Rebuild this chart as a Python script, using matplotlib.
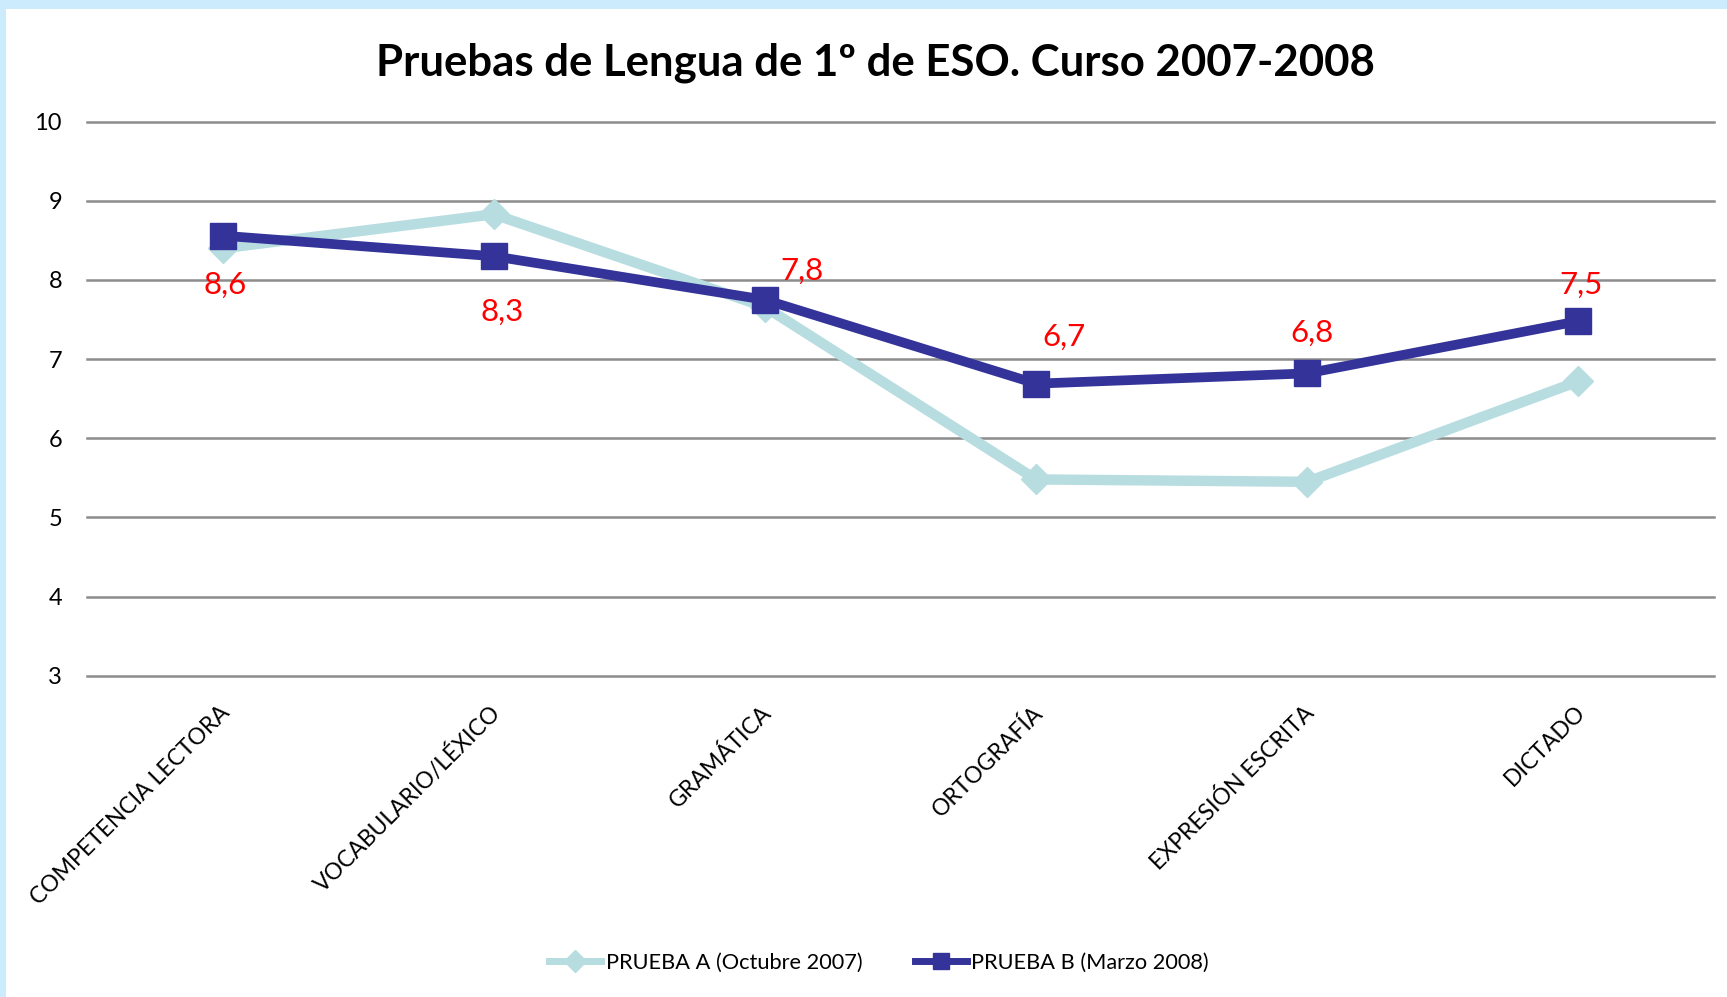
import matplotlib
matplotlib.use("Agg")
import matplotlib.pyplot as plt
from matplotlib.lines import Line2D
from matplotlib.patches import Rectangle
from matplotlib.transforms import ScaledTranslation

categories = ["COMPETENCIA LECTORA", "VOCABULARIO/LÉXICO", "GRAMÁTICA",
              "ORTOGRAFÍA", "EXPRESIÓN ESCRITA", "DICTADO"]
prueba_a = [8.40, 8.83, 7.66, 5.48, 5.45, 6.72]
prueba_b = [8.56, 8.30, 7.75, 6.69, 6.82, 7.48]
labels_b = ["8,6", "8,3", "7,8", "6,7", "6,8", "7,5"]
series_names = ["PRUEBA A (Octubre 2007)", "PRUEBA B (Marzo 2008)"]
yticks = [3, 4, 5, 6, 7, 8, 9, 10]
title = "Pruebas de Lengua de 1º de ESO. Curso 2007-2008"

# label offsets in pixels (style)
label_offsets = [(3, -49), (8, -56), (37, 29), (28, 47), (5, 41), (3, 36)]

plt.rcParams['font.family'] = ['Lato', 'DejaVu Sans']

color_a = "#B7DDE0"
color_b = "#333399"

fig = plt.figure(figsize=(17.27, 9.97), dpi=100)
fig.patch.set_facecolor("white")
# light blue frame on top and left
fig.patches.append(Rectangle((0, 1 - 9/997), 1, 9/997, transform=fig.transFigure,
                             facecolor="#CCEBFD", edgecolor="none", zorder=0))
fig.patches.append(Rectangle((0, 0), 6/1727, 1, transform=fig.transFigure,
                             facecolor="#CCEBFD", edgecolor="none", zorder=0))

ax = fig.add_axes([87/1727, 1 - 675.7/997, (1714 - 87)/1727, (675.7 - 121.7)/997])
x = list(range(len(categories)))

ax.plot(x, prueba_a, color=color_a, lw=7.5, marker="D", markersize=15,
        markerfacecolor=color_a, markeredgecolor=color_a, zorder=3,
        solid_joinstyle="round")
ax.plot(x, prueba_b, color=color_b, lw=7, marker="s", markersize=19,
        markerfacecolor=color_b, markeredgecolor=color_b, zorder=4,
        solid_joinstyle="round")

for xi, yi, lab, off in zip(x, prueba_b, labels_b, label_offsets):
    ax.annotate(lab, (xi, yi), xytext=off, textcoords="offset pixels",
                ha="center", va="center", color="#FF0000", fontsize=22.5, zorder=5)

ax.set_xlim(-0.5, len(categories) - 0.5)
ax.set_ylim(3, 10)
ax.set_yticks(yticks)
ax.set_yticklabels([str(t) for t in yticks], fontsize=17)
ax.set_xticks(x)
ax.set_xticklabels([""] * len(categories))
shift = ScaledTranslation(11/100, -26/100, fig.dpi_scale_trans)
for xi, cat in zip(x, categories):
    ax.text(xi, 0, cat, transform=ax.get_xaxis_transform() + shift,
            rotation=45, ha="right", va="top", fontsize=16.5, color="black")
ax.tick_params(axis="both", length=0)
ax.tick_params(axis="y", pad=18)
ax.grid(axis="y", color="#8C8C8C", lw=1.8)
for gl in ax.yaxis.get_gridlines():
    gl.set_clip_on(False)
ax.set_axisbelow(True)
for s in ax.spines.values():
    s.set_visible(False)

fig.text(875/1727, 1 - 63/997, title, ha="center", va="center",
         fontsize=31.5, fontweight="bold", color="black")

handles = [
    Line2D([], [], color=color_a, lw=5, marker="D", markersize=11,
           markerfacecolor=color_a, markeredgecolor=color_a),
    Line2D([], [], color=color_b, lw=5, marker="s", markersize=11,
           markerfacecolor=color_b, markeredgecolor=color_b),
]
fig.legend(handles, series_names, loc="center", bbox_to_anchor=(879/1727, 1 - 963/997),
           ncol=2, frameon=False, fontsize=15.7, handlelength=2.4, handletextpad=0.2,
           columnspacing=2.4)

fig.savefig("out.png", dpi=100)
